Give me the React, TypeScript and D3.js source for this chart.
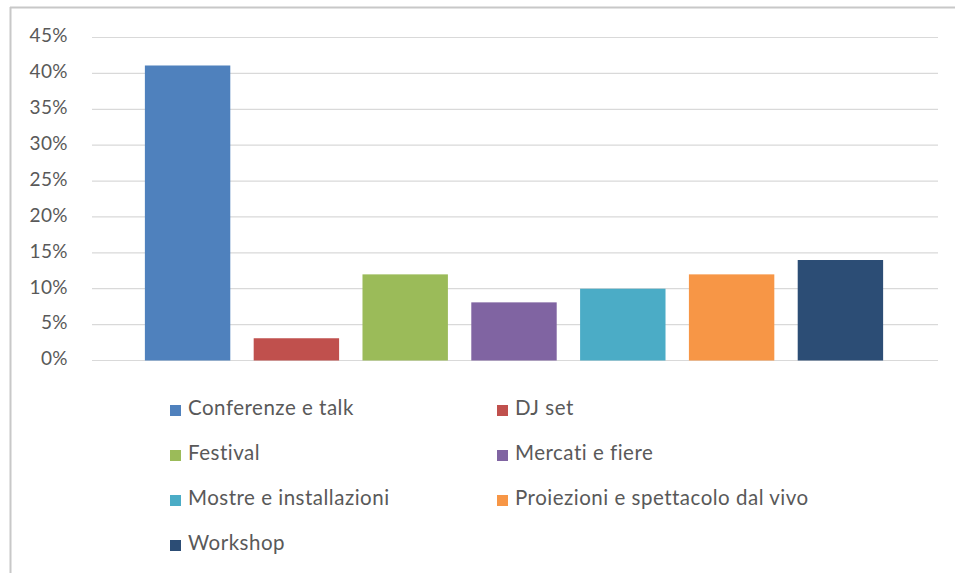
import React from "react";
import * as d3 from "d3";

// categories and shares (percent)
const categories = [
  "Conferenze e talk",
  "DJ set",
  "Festival",
  "Mercati e fiere",
  "Mostre e installazioni",
  "Proiezioni e spettacolo dal vivo",
  "Workshop",
];
const values = [41.1, 3.1, 12, 8.1, 10, 12, 14];
const colors = ["#4F81BD", "#C0504D", "#9BBB59", "#8064A2", "#4BACC6", "#F79646", "#2C4D75"];
const ticks = [0, 5, 10, 15, 20, 25, 30, 35, 40, 45];

const W = 955;
const H = 573;

export default function App() {
  const y = d3.scaleLinear().domain([0, 45]).range([360.5, 37.5]);
  const x = d3.scaleBand<string>().domain(categories).range([134, 894]).paddingInner(0.215).paddingOuter(0.1);

  const legendX = [170, 497];
  const legendY = [410, 455, 500, 545];

  return (
    <svg
      width={W}
      height={H}
      style={{ position: "absolute", left: 0, top: 0, fontFamily: "Lato, 'Open Sans', sans-serif" }}
    >
      <rect width={W} height={H} fill="#fff" />
      {/* frame */}
      <line x1={10.5} x2={10.5} y1={7} y2={H} stroke="#c8c8c8" strokeWidth={2} />
      <line x1={10} x2={W} y1={7.5} y2={7.5} stroke="#c8c8c8" strokeWidth={2} />

      {/* gridlines + tick labels */}
      {ticks.map((t) => (
        <g key={t}>
          <line x1={92} x2={938} y1={y(t)} y2={y(t)} stroke="#d9d9d9" strokeWidth={1.2} />
          <text
            x={68}
            y={y(t)}
            textAnchor="end"
            dominantBaseline="middle"
            fontSize={19}
            letterSpacing={0.4}
            fill="#595959"
          >
            {t + "%"}
          </text>
        </g>
      ))}

      {/* bars */}
      {categories.map((c, i) => (
        <rect
          key={c}
          x={x(c)}
          y={y(values[i])}
          width={x.bandwidth()}
          height={y(0) - y(values[i])}
          fill={colors[i]}
        />
      ))}

      {/* legend */}
      {categories.map((c, i) => {
        const lx = legendX[i % 2];
        const ly = legendY[Math.floor(i / 2)];
        return (
          <g key={c} transform={`translate(${lx},${ly})`}>
            <rect x={0} y={-5} width={11} height={11} fill={colors[i]} />
            <text x={18} y={0} dominantBaseline="middle" fontSize={20.5} letterSpacing={0.5} fill="#595959">
              {c}
            </text>
          </g>
        );
      })}
    </svg>
  );
}
